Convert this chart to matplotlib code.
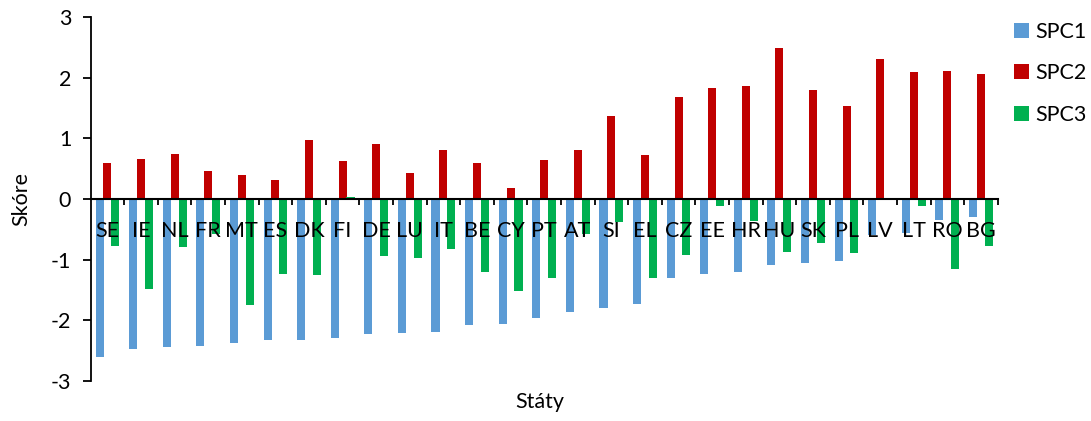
import numpy as np
import matplotlib.pyplot as plt

states = ['SE', 'IE', 'NL', 'FR', 'MT', 'ES', 'DK', 'FI', 'DE', 'LU', 'IT', 'BE', 'CY', 'PT',
          'AT', 'SI', 'EL', 'CZ', 'EE', 'HR', 'HU', 'SK', 'PL', 'LV', 'LT', 'RO', 'BG']
spc1 = [-2.61, -2.48, -2.45, -2.42, -2.37, -2.33, -2.33, -2.29, -2.23, -2.22, -2.20, -2.08, -2.06, -1.96,
        -1.86, -1.80, -1.73, -1.31, -1.24, -1.21, -1.09, -1.05, -1.03, -0.59, -0.56, -0.34, -0.29]
spc2 = [0.59, 0.66, 0.74, 0.47, 0.40, 0.32, 0.98, 0.63, 0.90, 0.43, 0.81, 0.59, 0.18, 0.64,
        0.81, 1.37, 0.73, 1.68, 1.84, 1.86, 2.50, 1.80, 1.53, 2.31, 2.10, 2.12, 2.07]
spc3 = [-0.77, -1.49, -0.80, -0.58, -1.75, -1.24, -1.26, 0.03, -0.94, -0.97, -0.83, -1.20, -1.52, -1.30,
        -0.58, -0.38, -1.30, -0.92, -0.12, -0.36, -0.88, -0.72, -0.89, -0.02, -0.12, -1.16, -0.77]
series = ['SPC1', 'SPC2', 'SPC3']
colors = ['#5B9BD5', '#C00000', '#00B050']

plt.rcParams['font.family'] = ['Lato', 'DejaVu Sans']
plt.rcParams['axes.unicode_minus'] = False
fs = 15.5

fig = plt.figure(figsize=(10.91, 4.21), dpi=100)
ax = fig.add_axes([0.0831, 0.0957, 0.9145 - 0.0831, 0.9589 - 0.0957])
ax.set_axisbelow(False)

x = np.arange(len(states))
w = 0.24
for i, (vals, name) in enumerate(zip([spc1, spc2, spc3], series)):
    ax.bar(x + (i - 1) * 0.235, vals, width=w, color=colors[i], label=name, zorder=2)

ax.set_xlim(-0.5, len(states) - 0.5)
ax.set_ylim(-3, 3)
ax.set_yticks(range(-3, 4))
ax.tick_params(axis='y', direction='out', length=6, width=1.3, labelsize=fs, pad=8)

ax.spines['top'].set_visible(False)
ax.spines['right'].set_visible(False)
ax.spines['bottom'].set_position(('data', 0))
ax.spines['bottom'].set_linewidth(1.5)
ax.spines['bottom'].set_zorder(3)
ax.spines['left'].set_linewidth(1.3)

ax.set_xticks(x)
ax.set_xticklabels(states)
ax.set_xticks(np.arange(0.5, len(states), 1), minor=True)
ax.tick_params(axis='x', which='major', length=0, labelsize=fs, pad=16)
ax.tick_params(axis='x', which='minor', direction='out', length=4.5, width=1.3)

ax.set_ylabel('Skóre', fontsize=fs, labelpad=14)
fig.text(0.495, 0.046, 'Státy', fontsize=fs, ha='center', va='center')

fig.legend(loc='upper left', bbox_to_anchor=(0.929, 0.948), frameon=False, fontsize=fs,
           handlelength=0.7, handleheight=0.7, handletextpad=0.3, labelspacing=1.0,
           borderpad=0, borderaxespad=0)

fig.savefig('out.png', dpi=100)
